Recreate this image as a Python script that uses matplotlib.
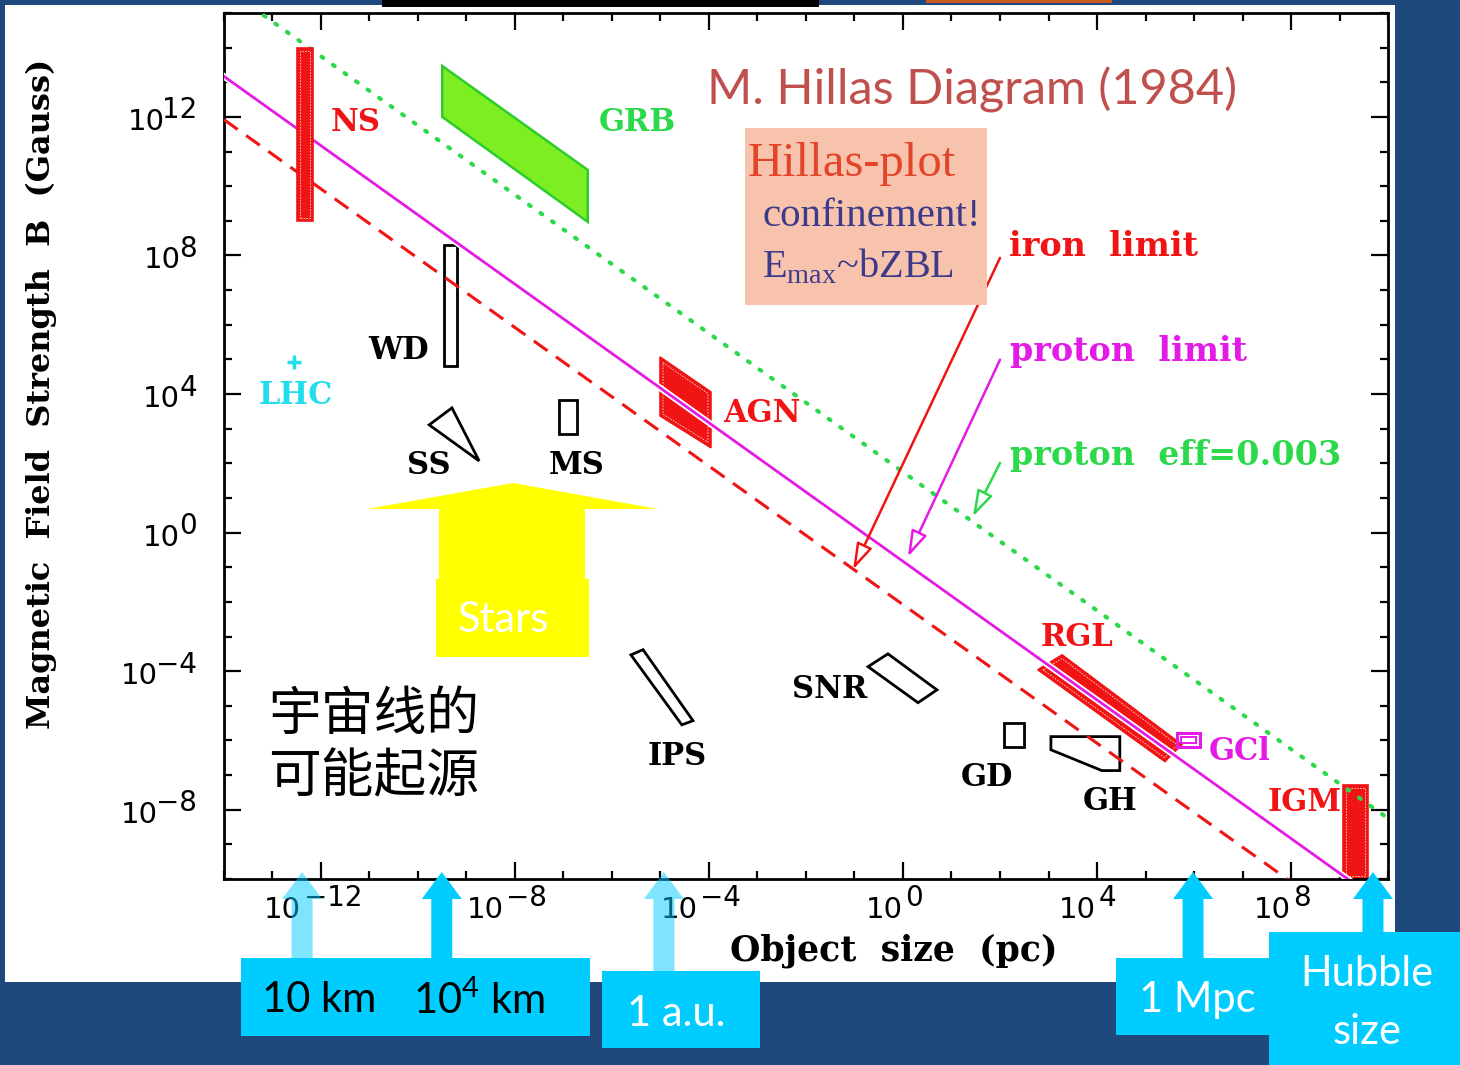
import numpy as np
import matplotlib
matplotlib.use('Agg')
import matplotlib.pyplot as plt
import matplotlib.patheffects as pe
import matplotlib.transforms as mtransforms
from matplotlib.patches import Polygon, Rectangle
from matplotlib.ticker import FixedLocator, NullFormatter
from matplotlib.textpath import TextPath
from matplotlib.font_manager import FontProperties

# Hillas lines: log10 B[G] = const - log10 L[pc]
limit_names = ['iron  limit', 'proton  limit', 'proton  eff=0.003']
limit_consts = [-2.08, -0.83, 1.75]

# source regions, corners as (log10 L, log10 B)
src_ns = [(-12.5, 9.0), (-12.17, 9.0), (-12.17, 14.0), (-12.5, 14.0)]
src_grb = [(-9.5, 13.47), (-6.5, 10.47), (-6.5, 8.97), (-9.5, 12.0)]
src_wd = [(-9.46, 4.81), (-9.2, 4.81), (-9.2, 8.31), (-9.46, 8.31)]
src_ss = [(-9.77, 3.11), (-9.30, 3.60), (-8.74, 2.07)]
src_ms = [(-7.09, 2.85), (-6.72, 2.85), (-6.72, 3.83), (-7.09, 3.83)]
src_agn = [(-5.01, 5.07), (-3.96, 4.06), (-3.96, 2.45), (-5.01, 3.37)]
src_ips = [(-5.61, -3.53), (-5.36, -3.38), (-4.33, -5.43), (-4.56, -5.55)]
src_snr = [(-0.72, -3.87), (-0.31, -3.50), (0.70, -4.54), (0.31, -4.91)]
src_gd = [(2.08, -6.18), (2.49, -6.18), (2.49, -5.49), (2.08, -5.49)]
src_gh = [(3.05, -5.89), (4.47, -5.89), (4.47, -6.87), (4.10, -6.87), (3.05, -6.27)]
src_rgl = [(2.78, -3.96), (3.28, -3.53), (5.75, -6.12), (5.40, -6.61)]
src_gcl = [(5.65, -6.18), (6.12, -6.18), (6.12, -5.78), (5.65, -5.78)]
src_igm = [(9.07, -10.0), (9.59, -10.0), (9.59, -7.28), (9.07, -7.28)]
lhc_point = (-12.56, 4.93)

# size references below the x axis (log10 pc)
scale_names = ['10 km', '10$^{\\mathdefault{4}}$ km', '1 a.u.', '1 Mpc', 'Hubble\nsize']
scale_logL = [-12.39, -9.51, -4.93, 5.98, 9.69]

x_major = [-12, -8, -4, 0, 4, 8]
y_major = [12, 8, 4, 0, -4, -8]

RED = '#F01414'
MAG = '#E41BE4'
GRN = '#2BD94A'
CYAN = '#00CCFF'
W, H = 1460, 1065
PX = 72 / 100


def lg(pts):
    return [(10.0 ** a, 10.0 ** b) for a, b in pts]


def fig_rect(x0, y0, x1, y1):
    return [x0 / W, 1 - y1 / H, (x1 - x0) / W, (y1 - y0) / H]


fig = plt.figure(figsize=(W / 100, H / 100), dpi=100, facecolor='#1F497D')

bg = fig.add_axes([0, 0, 1, 1], zorder=0)
bg.set_xlim(0, W)
bg.set_ylim(H, 0)
bg.axis('off')
bg.add_patch(Rectangle((5, 5), 1390, 977, fc='white', ec='none'))

ax = fig.add_axes(fig_rect(224, 13, 1388, 879), zorder=1)
ax.patch.set_alpha(0)
ax.set_xscale('log')
ax.set_yscale('log')
ax.set_xlim(1e-14, 1e10)
ax.set_ylim(1e-10, 1e15)
ax.xaxis.set_major_locator(FixedLocator([10.0 ** e for e in x_major]))
ax.yaxis.set_major_locator(FixedLocator([10.0 ** e for e in y_major]))
ax.xaxis.set_minor_locator(FixedLocator(10.0 ** np.arange(-14, 11)))
ax.yaxis.set_minor_locator(FixedLocator(10.0 ** np.arange(-10, 16)))
ax.xaxis.set_minor_formatter(NullFormatter())
ax.yaxis.set_minor_formatter(NullFormatter())
ax.tick_params(which='both', direction='in', top=True, right=True,
               labelbottom=False, labelleft=False, width=1.6, color='black')
ax.tick_params(which='major', length=12.5)
ax.tick_params(which='minor', length=6)
for sp in ax.spines.values():
    sp.set_linewidth(2.0)

# tick labels: "10" with a large exponent
tick_fp = FontProperties(family='DejaVu Sans', size=21)
exp_fp = FontProperties(family='DejaVu Sans', size=20)


def ink_w(s, fp):
    return TextPath((0, 0), s, prop=fp).get_extents().width


w10 = ink_w('10', tick_fp)
gap = 2.0
for e in x_major:
    s = str(e).replace('-', '\u2212')
    we = ink_w(s, exp_fp)
    anchor = -8 * PX - (w10 + gap + we) / 2 + w10
    tr = ax.get_xaxis_transform()
    ax.text(10.0 ** e, 0, '10', fontproperties=tick_fp, ha='right', va='baseline',
            transform=mtransforms.offset_copy(tr, fig=fig, x=anchor, y=-39 * PX, units='points'))
    ax.text(10.0 ** e, 0, s, fontproperties=exp_fp, ha='left', va='baseline',
            transform=mtransforms.offset_copy(tr, fig=fig, x=anchor + gap, y=-27 * PX, units='points'))
for e in y_major:
    s = str(e).replace('-', '\u2212')
    we = ink_w(s, exp_fp)
    tr = ax.get_yaxis_transform()
    ax.text(0, 10.0 ** e, s, fontproperties=exp_fp, ha='right', va='baseline',
            transform=mtransforms.offset_copy(tr, fig=fig, x=-27 * PX, y=-1.5 * PX, units='points'))
    ax.text(0, 10.0 ** e, '10', fontproperties=tick_fp, ha='right', va='baseline',
            transform=mtransforms.offset_copy(tr, fig=fig, x=-27 * PX - we - gap, y=-13 * PX, units='points'))

lab = dict(family='DejaVu Serif', weight='bold', size=22)
ax.set_xlabel('Object  size  (pc)', family='DejaVu Serif', weight='bold', size=25)
ax.xaxis.set_label_coords(0.5756, -0.0625)
ax.set_ylabel('Magnetic  Field  Strength  B  (Gauss)', family='DejaVu Serif',
              weight='bold', size=23)
ax.yaxis.set_label_coords(-0.1435, 0.5606)

# limit lines
Lgrid = np.logspace(-14, 10, 200)
line_styles = [dict(color=RED, lw=2.2, dashes=(5.5, 3.4)),
               dict(color=MAG, lw=2.0,
                    path_effects=[pe.Stroke(linewidth=4.6, foreground='white'), pe.Normal()]),
               dict(color=GRN, lw=3.0, dashes=(0.5, 2.9), dash_capstyle='round')]
for c, st in zip(limit_consts, line_styles):
    ax.plot(Lgrid, 10.0 ** c / Lgrid, zorder=3, **st)


def inset(verts, d):
    # shift every edge of a convex polygon inward by d pixels
    p = ax.transData.transform(verts)
    n = len(p)
    area = 0.5 * np.sum(p[:, 0] * np.roll(p[:, 1], -1) - np.roll(p[:, 0], -1) * p[:, 1])
    s = 1 if area > 0 else -1
    edges = []
    for i in range(n):
        a, b = p[i], p[(i + 1) % n]
        t = (b - a) / np.hypot(*(b - a))
        edges.append((a + d * s * np.array([-t[1], t[0]]), t))
    out = []
    for i in range(n):
        (p1, t1), (p2, t2) = edges[i - 1], edges[i]
        u = np.linalg.solve(np.array([t1, -t2]).T, p2 - p1)[0]
        out.append(p1 + u * t1)
    return ax.transData.inverted().transform(out)


for verts, z in [(src_ns, 4), (src_agn, 2), (src_rgl, 2), (src_igm, 2)]:
    v = lg(verts)
    ax.add_patch(Polygon(v, closed=True, fc=RED, ec=RED, lw=1.2, zorder=z))
    ax.add_patch(Polygon(inset(v, 3), closed=True, fill=False, ec='#FFD6D6', lw=0.6,
                         ls=(0, (2, 1.5)), zorder=z))

ax.add_patch(Polygon(lg(src_grb), closed=True, fc='#7DEE22', ec='#2DCC2D', lw=1.8, zorder=2))
for verts in [src_wd, src_ss, src_ms, src_ips, src_snr, src_gd, src_gh]:
    ax.add_patch(Polygon(lg(verts), closed=True, fill=False, ec='black', lw=2.0, zorder=2))
ax.add_patch(Polygon(lg(src_gcl), closed=True, fill=False, ec=MAG, lw=2.2, zorder=4))
ax.add_patch(Polygon(inset(lg(src_gcl), 4), closed=True, fill=False, ec=MAG, lw=1.4, zorder=4))
ax.plot(10.0 ** lhc_point[0], 10.0 ** lhc_point[1], marker='+', ms=10, mew=2.5,
        color='#22DDEE', zorder=4)

# source labels (log10 L, log10 B, colour)
src_labels = {'NS': (-11.28, 11.83, RED), 'GRB': (-5.48, 11.83, GRN),
              'WD': (-10.41, 5.25, 'black'), 'LHC': (-12.52, 3.95, '#22DDEE'),
              'SS': (-9.77, 1.93, 'black'), 'MS': (-6.72, 1.93, 'black'),
              'AGN': (-2.91, 3.43, RED), 'IPS': (-4.66, -6.47, 'black'),
              'SNR': (-1.51, -4.54, 'black'), 'GD': (1.73, -7.08, 'black'),
              'GH': (4.27, -7.77, 'black'), 'RGL': (3.59, -3.04, RED),
              'GCl': (6.95, -6.33, MAG), 'IGM': (8.29, -7.80, RED)}
for name, (lx, ly, col) in src_labels.items():
    ax.text(10.0 ** lx, 10.0 ** ly, name, color=col, ha='center', va='center',
            zorder=6, **lab)

# pointers from the limit labels to their lines
arrow_paths = [((2.0, 7.93), (-1.03, -1.07)), ((2.0, 4.99), (0.10, -0.70)),
               ((2.0, 2.01), (1.44, 0.46))]
label_pos = [(2.19, 8.25), (2.21, 5.22), (2.21, 2.22)]
for name, col, (p0, p1), (tx, ty) in zip(limit_names, [RED, MAG, GRN], arrow_paths, label_pos):
    ax.annotate('', xy=(10.0 ** p1[0], 10.0 ** p1[1]), xytext=(10.0 ** p0[0], 10.0 ** p0[1]),
                arrowprops=dict(arrowstyle='-|>,head_length=0.8,head_width=0.25',
                                mutation_scale=20, ec=col, fc='white', lw=1.8,
                                shrinkA=0, shrinkB=0), zorder=5)
    ax.text(10.0 ** tx, 10.0 ** ty, name, color=col, ha='left', va='center', zorder=6,
            family='DejaVu Serif', weight='bold', size=24)

# slide overlay in pixel coordinates
ov = fig.add_axes([0, 0, 1, 1], zorder=3)
ov.set_xlim(0, W)
ov.set_ylim(H, 0)
ov.axis('off')
ov.patch.set_alpha(0)

ov.add_patch(Rectangle((382, 0), 437, 7, fc='black', ec='none'))
ov.add_patch(Rectangle((926, 0), 186, 3, fc='#C85A1E', ec='none'))

ov.text(707, 90, 'M. Hillas Diagram (1984)', family='Lato', size=35, color='#C0504D',
        ha='left', va='center')

ov.add_patch(Rectangle((745, 128), 242, 177, fc='#F8C3AC', ec='none'))
ov.text(748, 176, 'Hillas-plot', family='Liberation Serif', size=35, color='#E2452A',
        ha='left', va='baseline')
ov.text(762, 226, 'confinement!', family='Liberation Serif', size=29.5, color='#3D3A8A',
        ha='left', va='baseline')
ov.text(762, 277, 'E$_{\\mathdefault{max}}$~bZBL', family='Liberation Serif', size=29,
        color='#3D3A8A', ha='left', va='baseline')

stars = [(367, 509), (513, 483), (658, 509), (585, 509), (585, 579), (589, 579),
         (589, 657), (436, 657), (436, 579), (439, 579), (439, 509)]
ov.add_patch(Polygon(stars, closed=True, fc='#FFFF00', ec='none'))
ov.text(503, 620, 'Stars', family='Lato', size=30, color='white', ha='center', va='center')

ov.text(268, 714, '宇宙线的', family='Noto Sans CJK SC', size=38, ha='left', va='center')
ov.text(268, 777, '可能起源', family='Noto Sans CJK SC', size=38, ha='left', va='center')

# size reference arrows and their boxes
arrow_base = [958, 958, 971, 958, 932]
faded = {'10 km', '1 a.u.'}
for name, lx, yb in zip(scale_names, scale_logL, arrow_base):
    x = ax.transData.transform((10.0 ** lx, 1.0))[0]
    alpha = 0.5 if name in faded else 1.0
    pts = [(x, 872), (x + 20, 899), (x + 10.5, 899), (x + 10.5, yb),
           (x - 10.5, yb), (x - 10.5, 899), (x - 20, 899)]
    ov.add_patch(Polygon(pts, closed=True, fc=CYAN, alpha=alpha, ec='none'))

ov.add_patch(Rectangle((241, 958), 349, 78, fc=CYAN, ec='none'))
ov.add_patch(Rectangle((602, 971), 158, 77, fc=CYAN, ec='none'))
ov.add_patch(Rectangle((1116, 958), 154, 77, fc=CYAN, ec='none'))
ov.add_patch(Rectangle((1269, 932), 191, 133, fc=CYAN, ec='none'))
box_txt = dict(family='Lato', size=30)
ov.text(262, 1000, scale_names[0], color='black', ha='left', va='center', **box_txt)
ov.text(413, 1000, scale_names[1], color='black', ha='left', va='center', **box_txt)
ov.text(676, 1014, scale_names[2], color='white', ha='center', va='center', **box_txt)
ov.text(1197, 1000, scale_names[3], color='white', ha='center', va='center', **box_txt)
hub_top, hub_bot = scale_names[4].split('\n')
ov.text(1367, 974, hub_top, color='white', ha='center', va='center', **box_txt)
ov.text(1367, 1032, hub_bot, color='white', ha='center', va='center', **box_txt)

fig.savefig('out.png', dpi=100, facecolor=fig.get_facecolor())
